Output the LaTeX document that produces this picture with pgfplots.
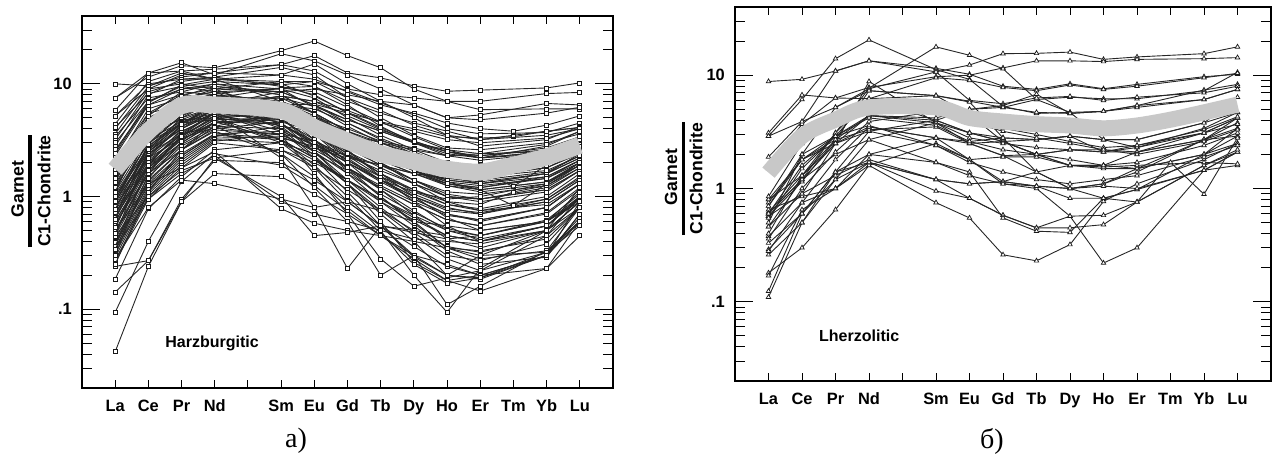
\documentclass[border=0pt]{standalone}
\usepackage{fontspec}
\setmainfont{Liberation Sans}
\newfontfamily\serifcyr{Liberation Serif}
\usepackage{pgfplots}
\pgfplotsset{compat=1.18}
\definecolor{band}{RGB}{200,200,200}
\pgfplotsset{every axis/.append style={
    scale only axis, clip marker paths=true,
    xmin=-1, xmax=15, ymin=0.02, ymax=40,
    xtick={0,...,14},
    xticklabels={La,Ce,Pr,Nd,,Sm,Eu,Gd,Tb,Dy,Ho,Er,Tm,Yb,Lu},
    ytick={0.1,1,10}, yticklabels={.1,1,10},
    minor ytick={0.02,0.03,0.04,0.05,0.06,0.07,0.08,0.09,0.2,0.3,0.4,0.5,0.6,0.7,0.8,0.9,2,3,4,5,6,7,8,9,20,30},
    tick align=inside, xtick pos=both, ytick pos=both,
    major tick length=9pt, minor tick length=5pt,
    xtick style={/pgfplots/major tick length=4pt},
    every tick/.style={black, line width=0.5pt},
    axis line style={line width=0.9pt},
    ticklabel style={font=\fontsize{8.2}{9}\selectfont\bfseries},
    xticklabel style={text height=6pt, text depth=1.7pt, yshift=-2.3pt},
    yticklabel style={xshift=-1.6pt},
  },
  hzs/.style={draw=black!85, line width=0.45pt, mark=square*, mark size=1pt, mark options={solid, fill=white, draw=black!90, line width=0.35pt}},
  lzs/.style={draw=black!85, line width=0.45pt, mark=triangle*, mark size=1.3pt, mark options={solid, fill=white, draw=black!90, line width=0.35pt}},
}
\begin{document}
\begin{tikzpicture}
\useasboundingbox (0,0) rectangle (639pt,228.5pt);
% ---------------- left panel: Harzburgitic ----------------
\begin{semilogyaxis}[width=265.5pt, height=186pt, at={(41pt,34.5pt)}, anchor=south west]
\addplot[hzs] coordinates {(0,10.0)(1,9.6)(2,11.5)(3,12.5)(5,14.8)(6,17.8)(7,12.5)(8,11.3)(9,9.6)(10,8.6)(11,8.8)(13,9.2)(14,10.2)};
\addplot[hzs] coordinates {(0,7.5)(1,11.5)(2,14.5)(3,13.9)(5,19.7)(6,24)(7,17.8)(8,13.9)(9,9.0)(10,7.0)(11,7.0)(13,8.2)(14,8.4)};
\addplot[hzs] coordinates {(0,5.8)(1,12.5)(2,15.4)(3,12)(5,18.5)(6,16)(7,12)(8,9)(9,6.5)(10,5)(11,5.3)(13,6.7)(14,6.5)};
\addplot[hzs] coordinates {(0,4.4)(1,10.5)(2,13)(3,13.5)(5,14.8)(6,13)(7,9)(8,8)(9,7.5)(10,7)(11,5.9)(13,6)(14,6.0)};
\addplot[hzs] coordinates {(0,3.6)(1,9)(2,12)(3,12.5)(5,12)(6,11)(7,8.5)(8,6.5)(9,5.5)(10,4.5)(11,4.0)(12,3.8)(13,4.3)(14,5.2)};
\addplot[hzs] coordinates {(0,2.8)(1,8)(2,11)(3,11)(5,10.5)(6,9.5)(7,7)(8,5.5)(9,4.5)(10,3.8)(11,3.2)(12,3.5)(13,3.8)(14,4.1)};
\addplot[hzs] coordinates {(0,5.2)(1,10)(2,11)(3,11.5)(5,9.5)(6,8)(7,5.5)(8,4)(9,3)(10,2.4)(11,2.2)(13,2.8)(14,3.8)};
\addplot[hzs] coordinates {(0,2.5)(1,7)(2,9.5)(3,10.5)(5,9.8)(6,10.5)(7,8.7)(8,6.8)(9,5.3)(10,4)(11,3.6)(13,3.7)(14,4.5)};
\addplot[hzs] coordinates {(0,4.0)(1,9.5)(2,12.5)(3,11)(5,12)(6,15)(7,10)(8,7)(9,5)(10,3.5)(11,2.8)(13,3.2)(14,4.2)};
\addplot[hzs] coordinates {(0,3.2)(1,8.5)(2,10.5)(3,11.5)(5,14)(6,12)(7,7.5)(8,5)(9,3.5)(10,2.7)(11,2.6)(13,3.0)(14,3.6)};
\addplot[hzs] coordinates {(0,2.1)(1,5.5)(2,8)(3,9)(5,8.5)(6,6.5)(7,4.5)(8,3.2)(9,2.4)(10,1.8)(11,1.6)(13,2.0)(14,2.8)};
\addplot[hzs] coordinates {(0,1.8)(1,5)(2,7)(3,8)(5,7)(6,5)(7,3.4)(8,2.5)(9,1.9)(10,1.5)(11,1.3)(13,1.6)(14,2.4)};
\addplot[hzs] coordinates {(0,1.6)(1,4.5)(2,7.5)(3,8.5)(5,9)(6,7.5)(7,5)(8,3.5)(9,2.6)(10,2)(11,1.8)(13,2.1)(14,2.9)};
\addplot[hzs] coordinates {(0,1.4)(1,4.2)(2,6.5)(3,7)(5,6)(6,4.2)(7,3)(8,2.2)(9,1.7)(10,1.4)(11,1.3)(13,1.6)(14,2.2)};
\addplot[hzs] coordinates {(0,1.3)(1,3.8)(2,6)(3,7.5)(5,7.5)(6,5.5)(7,3.8)(8,2.8)(9,2.2)(10,1.8)(11,1.7)(13,2.1)(14,2.7)};
\addplot[hzs] coordinates {(0,1.2)(1,3.5)(2,5.5)(3,6.5)(5,5.5)(6,3.8)(7,2.5)(8,1.8)(9,1.3)(10,1.0)(11,0.95)(13,1.2)(14,1.8)};
\addplot[hzs] coordinates {(0,1.1)(1,3.3)(2,5)(3,6.2)(5,6.5)(6,5)(7,3.6)(8,2.7)(9,2.1)(10,1.7)(11,1.55)(13,1.8)(14,2.5)};
\addplot[hzs] coordinates {(0,1.0)(1,3)(2,5.2)(3,6.8)(5,7.5)(6,6.3)(7,4.8)(8,3.8)(9,3)(10,2.5)(11,2.2)(13,2.5)(14,3.1)};
\addplot[hzs] coordinates {(0,0.95)(1,2.8)(2,4.8)(3,6.2)(5,5.5)(6,3.6)(7,2.3)(8,1.5)(9,1.05)(10,0.8)(11,0.7)(13,0.9)(14,1.4)};
\addplot[hzs] coordinates {(0,0.9)(1,2.6)(2,4.4)(3,5.8)(5,6)(6,4.5)(7,3.2)(8,2.3)(9,1.7)(10,1.3)(11,1.2)(13,1.5)(14,2.1)};
\addplot[hzs] coordinates {(0,0.85)(1,2.5)(2,4)(3,5.5)(5,4.8)(6,3.2)(7,2.1)(8,1.4)(9,1.0)(10,0.75)(11,0.7)(13,0.95)(14,1.5)};
\addplot[hzs] coordinates {(0,0.8)(1,2.3)(2,4.2)(3,6)(5,7)(6,5.5)(7,3.8)(8,2.6)(9,1.8)(10,1.35)(11,1.15)(13,1.35)(14,2.0)};
\addplot[hzs] coordinates {(0,0.75)(1,2.2)(2,3.8)(3,5.2)(5,5.2)(6,3.9)(7,2.7)(8,1.9)(9,1.4)(10,1.05)(11,0.95)(13,1.15)(14,1.7)};
\addplot[hzs] coordinates {(0,0.7)(1,2.1)(2,3.5)(3,5)(5,4.3)(6,3)(7,2)(8,1.35)(9,0.95)(10,0.7)(11,0.6)(13,0.8)(14,1.3)};
\addplot[hzs] coordinates {(0,0.65)(1,2)(2,3.7)(3,5.5)(5,6.5)(6,6)(7,4.5)(8,3.3)(9,2.5)(10,1.9)(11,1.7)(13,2)(14,2.6)};
\addplot[hzs] coordinates {(0,0.6)(1,1.9)(2,3.3)(3,4.8)(5,5)(6,3.6)(7,2.4)(8,1.6)(9,1.1)(10,0.85)(11,0.75)(13,0.95)(14,1.45)};
\addplot[hzs] coordinates {(0,0.55)(1,1.8)(2,3.2)(3,4.6)(5,4.4)(6,3.1)(7,2.1)(8,1.5)(9,1.15)(10,0.9)(11,0.85)(12,1.1)(13,1.25)(14,1.9)};
\addplot[hzs] coordinates {(0,0.5)(1,1.7)(2,3)(3,4.5)(5,5.2)(6,4.6)(7,3.4)(8,2.5)(9,1.9)(10,1.5)(11,1.4)(13,1.65)(14,2.3)};
\addplot[hzs] coordinates {(0,0.48)(1,1.6)(2,2.9)(3,4.2)(5,4)(6,2.8)(7,1.8)(8,1.2)(9,0.85)(10,0.62)(11,0.55)(13,0.72)(14,1.2)};
\addplot[hzs] coordinates {(0,0.45)(1,1.5)(2,2.8)(3,4.0)(5,4.6)(6,3.8)(7,2.8)(8,2.1)(9,1.6)(10,1.25)(11,1.15)(13,1.35)(14,1.9)};
\addplot[hzs] coordinates {(0,0.42)(1,1.4)(2,2.6)(3,3.9)(5,3.6)(6,2.5)(7,1.6)(8,1.05)(9,0.72)(10,0.52)(11,0.45)(13,0.6)(14,1.0)};
\addplot[hzs] coordinates {(0,0.4)(1,1.35)(2,2.6)(3,4.2)(5,5.5)(6,5)(7,3.7)(8,2.8)(9,2.1)(10,1.7)(11,1.5)(13,1.8)(14,2.4)};
\addplot[hzs] coordinates {(0,0.37)(1,1.3)(2,2.4)(3,3.6)(5,3.8)(6,2.9)(7,2)(8,1.4)(9,1.0)(10,0.78)(11,0.72)(13,0.9)(14,1.4)};
\addplot[hzs] coordinates {(0,0.35)(1,1.2)(2,2.3)(3,3.5)(5,3.2)(6,2.2)(7,1.4)(8,0.9)(9,0.62)(10,0.45)(11,0.4)(13,0.55)(14,0.95)};
\addplot[hzs] coordinates {(0,0.33)(1,1.15)(2,2.2)(3,3.4)(5,4.2)(6,3.8)(7,2.9)(8,2.2)(9,1.7)(10,1.35)(11,1.25)(13,1.45)(14,2.0)};
\addplot[hzs] coordinates {(0,0.31)(1,1.1)(2,2.1)(3,3.3)(5,3.4)(6,2.6)(7,1.8)(8,1.25)(9,0.9)(10,0.68)(11,0.62)(13,0.8)(14,1.3)};
\addplot[hzs] coordinates {(0,0.29)(1,1.05)(2,2.0)(3,3.2)(5,3.0)(6,2.1)(7,1.4)(8,0.95)(9,0.68)(10,0.5)(11,0.45)(13,0.62)(14,1.05)};
\addplot[hzs] coordinates {(0,0.27)(1,1.0)(2,1.9)(3,3.1)(5,3.6)(6,3.1)(7,2.3)(8,1.7)(9,1.3)(10,1.0)(11,0.95)(13,1.15)(14,1.7)};
\addplot[hzs] coordinates {(0,0.26)(1,0.95)(2,1.8)(3,3.0)(5,2.6)(6,1.8)(7,1.15)(8,0.75)(9,0.5)(10,0.36)(11,0.32)(13,0.45)(14,0.8)};
\addplot[hzs] coordinates {(0,0.24)(1,0.27)(2,0.9)(3,2.2)(5,2.6)(6,2.0)(7,1.4)(8,0.95)(9,0.65)(10,0.45)(11,0.4)(13,0.55)(14,0.95)};
\addplot[hzs] coordinates {(0,0.185)(1,0.78)(2,1.5)(3,2.6)(5,3)(6,2.4)(7,1.7)(8,1.2)(9,0.85)(10,0.62)(11,0.55)(13,0.7)(14,1.15)};
\addplot[hzs] coordinates {(0,0.142)(1,0.27)(2,0.95)(3,2.1)(5,2.0)(6,1.4)(7,0.9)(8,0.55)(9,0.36)(10,0.24)(11,0.2)(13,0.3)(14,0.6)};
\addplot[hzs] coordinates {(0,0.094)(1,0.4)(2,1.36)(3,2.4)(5,1.9)(6,1.25)(7,0.75)(8,0.45)(9,0.28)(10,0.18)(11,0.145)(13,0.23)(14,0.45)};
\addplot[hzs] coordinates {(0,0.042)(1,0.24)(2,0.9)(3,1.6)(5,1.5)(6,1.05)(7,0.7)(8,0.45)(9,0.3)(10,0.2)(11,0.19)(13,0.32)(14,0.61)};
\addplot[hzs] coordinates {(0,7.5)(1,12.5)(2,13)(3,11)(5,7)(6,4.5)(7,2.6)(8,1.5)(9,0.9)(10,0.55)(11,0.4)(13,0.5)(14,0.8)};
\addplot[hzs] coordinates {(0,5.2)(1,9)(2,10)(3,9)(5,5.5)(6,3.2)(7,1.8)(8,1.0)(9,0.6)(10,0.35)(11,0.28)(13,0.33)(14,0.6)};
\addplot[hzs] coordinates {(0,4.1)(1,8.2)(2,9.5)(3,8.5)(5,5)(6,2.8)(7,1.6)(8,0.9)(9,0.55)(10,0.33)(11,0.25)(13,0.29)(14,0.7)};
\addplot[hzs] coordinates {(0,3.4)(1,7.5)(2,8.5)(3,8)(5,6)(6,4)(7,2.5)(8,1.6)(9,1.0)(10,0.65)(11,0.5)(13,0.6)(14,0.95)};
\addplot[hzs] coordinates {(0,2.6)(1,6.5)(2,8)(3,7.5)(5,5)(6,3)(7,1.7)(8,1.0)(9,0.58)(10,0.35)(11,0.3)(13,0.5)(14,0.9)};
\addplot[hzs] coordinates {(0,2.0)(1,6)(2,7.5)(3,8.5)(5,6.5)(6,4.5)(7,3)(8,2)(9,1.3)(10,0.9)(11,0.75)(13,0.85)(14,1.3)};
\addplot[hzs] coordinates {(0,1.7)(1,5.5)(2,6.5)(3,6.5)(5,4.5)(6,2.8)(7,1.8)(8,1.15)(9,0.75)(10,0.5)(11,0.42)(13,0.55)(14,1.0)};
\addplot[hzs] coordinates {(0,1.5)(1,4.8)(2,6)(3,6.5)(5,4)(6,2.3)(7,1.3)(8,0.75)(9,0.45)(10,0.28)(11,0.22)(13,0.32)(14,0.65)};
\addplot[hzs] coordinates {(0,1.15)(1,4)(2,5.5)(3,6)(5,4.2)(6,2.5)(7,1.4)(8,0.8)(9,0.48)(10,0.3)(11,0.27)(13,0.38)(14,0.8)};
\addplot[hzs] coordinates {(0,0.92)(1,3.5)(2,5.5)(3,7)(5,6)(6,3.6)(7,2)(8,1.15)(9,0.68)(10,0.42)(11,0.35)(13,0.5)(14,0.9)};
\addplot[hzs] coordinates {(0,0.68)(1,2.8)(2,4.5)(3,6)(5,4.5)(6,2.5)(7,1.3)(8,0.7)(9,0.4)(10,0.2)(11,0.185)(13,0.3)(14,0.7)};
\addplot[hzs] coordinates {(0,0.52)(1,2.4)(2,4)(3,5.5)(5,3.8)(6,2.2)(7,1.1)(8,0.55)(9,0.3)(10,0.11)(11,0.16)(13,0.33)(14,0.8)};
\addplot[hzs] coordinates {(0,1.25)(1,3.8)(2,4.8)(3,5)(5,3.2)(6,1.9)(7,1.0)(8,0.5)(9,0.2)(10,0.094)(11,0.23)(13,0.5)(14,1.2)};
\addplot[hzs] coordinates {(0,0.88)(1,3.2)(2,4.6)(3,5.5)(5,3.5)(6,1.6)(7,0.7)(8,0.28)(9,0.16)(10,0.19)(11,0.22)(13,0.45)(14,1.0)};
\addplot[hzs] coordinates {(0,0.62)(1,2.5)(2,4.2)(3,5.5)(5,2.2)(6,0.8)(7,0.23)(8,0.55)(9,0.5)(10,0.45)(11,0.4)(13,0.55)(14,1.0)};
\addplot[hzs] coordinates {(0,0.78)(1,2.4)(2,3.6)(3,4.2)(5,2.4)(6,1.2)(7,0.6)(8,0.2)(9,0.3)(10,0.25)(11,0.2)(13,0.3)(14,0.6)};
\addplot[hzs] coordinates {(0,1.05)(1,3)(2,4.5)(3,4.8)(5,3)(6,1.8)(7,0.9)(8,0.55)(9,0.29)(10,0.2)(11,0.3)(13,0.32)(14,0.55)};
\addplot[hzs] coordinates {(0,0.73)(1,1.8)(2,3)(3,4.6)(5,3.2)(6,2.2)(7,1.3)(8,0.6)(9,0.26)(10,0.18)(11,0.2)(13,0.23)(14,0.6)};
\addplot[hzs] coordinates {(0,0.58)(1,1.6)(2,2.6)(3,3.8)(5,2.4)(6,1.5)(7,0.8)(8,0.48)(9,0.25)(10,0.17)(11,0.19)(13,0.3)(14,0.9)};
\addplot[hzs] coordinates {(0,0.9)(1,2.5)(2,4.5)(3,6.5)(5,8.5)(6,9)(7,8)(8,7)(9,6.5)(10,5)(11,4.8)(13,5.5)(14,6.2)};
\addplot[hzs] coordinates {(0,0.55)(1,2)(2,3.6)(3,5.5)(5,6.5)(6,6.6)(7,5.5)(8,4.6)(9,4)(10,3.4)(11,3.3)(12,3.4)(13,3.8)(14,4.1)};
\addplot[hzs] coordinates {(0,1.9)(1,4.7)(2,6.8)(3,8.2)(5,9.2)(6,9.5)(7,6.5)(8,4.2)(9,3.0)(10,2.3)(11,2.4)(13,2.5)(14,3.3)};
\addplot[hzs] coordinates {(0,1.35)(1,4.5)(2,7.2)(3,9)(5,10.5)(6,10.5)(7,7.5)(8,5.8)(9,4.3)(10,3.5)(11,3.2)(13,3.5)(14,4.0)};
\addplot[hzs] coordinates {(0,0.5)(1,1.3)(2,1.8)(3,2.5)(5,0.78)(6,0.58)(7,0.5)(8,0.45)(9,0.4)(10,0.35)(11,0.33)(13,0.42)(14,0.8)};
\addplot[hzs] coordinates {(0,0.35)(1,0.95)(2,1.6)(3,2.3)(5,0.9)(6,0.7)(7,0.6)(8,0.5)(9,0.42)(10,0.4)(11,0.38)(13,0.5)(14,0.9)};
\addplot[hzs] coordinates {(0,0.45)(1,1.0)(2,1.7)(3,2.2)(5,1.0)(6,0.45)(7,0.48)(8,0.55)(9,0.48)(10,0.42)(11,0.45)(13,0.6)(14,1.1)};
\addplot[hzs] coordinates {(0,0.28)(1,0.8)(2,1.4)(3,1.3)(5,0.95)(6,0.8)(7,0.9)(8,0.75)(9,0.6)(10,0.55)(11,0.5)(13,0.6)(14,0.9)};
\addplot[hzs] coordinates {(0,2.3)(1,6.5)(2,9)(3,10)(5,8)(6,5.5)(7,3.8)(8,2.8)(9,2.1)(10,1.7)(11,1.65)(12,1.23)(13,1.9)(14,2.6)};
\addplot[hzs] coordinates {(0,1.45)(1,4.2)(2,6.2)(3,7.2)(5,6)(6,4.2)(7,2.9)(8,2.1)(9,1.6)(10,1.3)(11,1.15)(12,0.83)(13,1.3)(14,2.0)};
\addplot[hzs] coordinates {(0,1.0)(1,2.7)(2,4.5)(3,6.3)(5,7.8)(6,7)(7,5.8)(8,4.5)(9,3.8)(10,3.2)(11,3.0)(13,3.3)(14,4.0)};
\addplot[hzs] coordinates {(0,0.66)(1,1.9)(2,3.4)(3,5.0)(5,5.8)(6,5.1)(7,4.0)(8,3.1)(9,2.7)(10,2.3)(11,2.3)(13,2.6)(14,3.3)};
\addplot[hzs] coordinates {(0,0.82)(1,2.2)(2,3.3)(3,4.1)(5,3.5)(6,2.7)(7,2.2)(8,1.9)(9,1.6)(10,1.45)(11,1.35)(13,1.6)(14,2.2)};
\addplot[hzs] coordinates {(0,0.39)(1,1.25)(2,2.3)(3,3.6)(5,3.3)(6,2.8)(7,2.3)(8,1.9)(9,1.6)(10,1.45)(11,1.5)(13,1.7)(14,2.3)};
\addplot[hzs] coordinates {(0,3.0)(1,7)(2,9)(3,9.5)(5,8.5)(6,6.5)(7,4.8)(8,3.8)(9,3.0)(10,2.6)(11,2.4)(13,2.9)(14,3.8)};
\addplot[hzs] coordinates {(0,1.2)(1,3.5)(2,5.8)(3,7.5)(5,9.2)(6,8.5)(7,6.2)(8,4.6)(9,3.4)(10,2.6)(11,2.2)(13,2.5)(14,3.0)};
\addplot[hzs] coordinates {(0,0.6)(1,1.85)(2,3.2)(3,4.5)(5,4.8)(6,4.3)(7,3.6)(8,3.0)(9,2.6)(10,2.3)(11,2.1)(13,2.4)(14,3.0)};
\addplot[hzs] coordinates {(0,0.3)(1,1.6)(2,3.5)(3,5.5)(5,6.2)(6,4.8)(7,3.3)(8,2.4)(9,1.8)(10,1.4)(11,1.3)(13,1.5)(14,2.1)};
\addplot[hzs] coordinates {(0,0.44)(1,2.6)(2,5)(3,7)(5,7)(6,5.2)(7,3.5)(8,2.4)(9,1.7)(10,1.25)(11,1.1)(13,1.3)(14,1.9)};
\addplot[hzs] coordinates {(0,0.63)(1,3)(2,5.8)(3,7.8)(5,6.8)(6,4.6)(7,3.0)(8,2.0)(9,1.4)(10,1.0)(11,0.9)(13,1.1)(14,1.7)};
\addplot[hzs] coordinates {(0,1.6)(1,5.2)(2,8.5)(3,10)(5,9)(6,6.2)(7,4.2)(8,3)(9,2.3)(10,1.9)(11,1.8)(13,2.1)(14,2.9)};
\addplot[hzs] coordinates {(0,0.36)(1,1.9)(2,4)(3,6)(5,5.5)(6,3.6)(7,2.2)(8,1.4)(9,0.95)(10,0.7)(11,0.62)(13,0.8)(14,1.3)};
\addplot[hzs] coordinates {(0,0.53)(1,2.2)(2,4.4)(3,6.4)(5,7.8)(6,7)(7,5.2)(8,3.9)(9,3.1)(10,2.5)(11,2.2)(13,2.4)(14,3.2)};
\addplot[hzs] coordinates {(0,2.4)(1,6.8)(2,9.8)(3,11)(5,10)(6,7.8)(7,5.6)(8,4.1)(9,3.1)(10,2.5)(11,2.3)(13,2.7)(14,3.4)};
\addplot[hzs] coordinates {(0,0.77)(1,2.9)(2,5.3)(3,7)(5,5.8)(6,3.8)(7,2.4)(8,1.6)(9,1.15)(10,0.85)(11,0.78)(13,1.0)(14,1.6)};
\addplot[hzs] coordinates {(0,0.25)(1,1.1)(2,2.6)(3,4.6)(5,4.9)(6,3.9)(7,2.7)(8,1.9)(9,1.4)(10,1.1)(11,1.05)(13,1.25)(14,1.8)};
\addplot[hzs] coordinates {(0,1.1)(1,4.4)(2,7.8)(3,9.5)(5,8)(6,5.4)(7,3.5)(8,2.4)(9,1.7)(10,1.3)(11,1.2)(13,1.45)(14,2.1)};
\addplot[hzs] coordinates {(0,0.47)(1,1.7)(2,3.4)(3,5.2)(5,4.4)(6,3.0)(7,2.0)(8,1.4)(9,1.1)(10,0.95)(11,1.0)(13,1.3)(14,2.0)};
\addplot[hzs] coordinates {(0,0.34)(1,1.45)(2,3.1)(3,4.9)(5,5.6)(6,4.9)(7,3.8)(8,3.0)(9,2.4)(10,2.0)(11,1.9)(13,2.2)(14,2.8)};
\addplot[smooth, line width=8.5pt, color=band] coordinates {(0,1.75)(1,3.8)(2,6.4)(3,6.5)(5,5.8)(6,4.1)(7,3.1)(8,2.4)(9,2.05)(10,1.75)(11,1.65)(12,1.9)(13,2.25)(14,2.85)};
\node[anchor=west, inner sep=0pt, font=\fontsize{8}{9}\selectfont\bfseries] at (axis cs:1.5,0.05) {Harzburgitic};
\end{semilogyaxis}
% ---------------- right panel: Lherzolitic ----------------
\begin{semilogyaxis}[width=268pt, height=187pt, at={(367.5pt,38pt)}, anchor=south west]
\addplot[lzs] coordinates {(0,8.8)(1,9.2)(2,10.9)(3,13.4)(5,11.5)(6,10.2)(7,8.0)(8,7.5)(9,8.4)(10,7.6)(11,8.3)(13,9.7)(14,10.2)};
\addplot[lzs] coordinates {(0,2.9)(1,6.1)(2,14)(3,20.5)(5,11.2)(6,9.2)(7,5.3)(8,4.6)(9,4.7)(10,4.8)(11,5.4)(13,7.4)(14,8.3)};
\addplot[lzs] coordinates {(0,1.9)(1,3.9)(2,10.9)(3,13.4)(5,10.7)(6,12.3)(7,15.5)(8,15.6)(9,16)(10,13.8)(11,14.5)(13,15.5)(14,17.8)};
\addplot[lzs] coordinates {(0,1.5)(1,3.7)(2,6.3)(3,7.8)(5,9.7)(6,10)(7,11.6)(8,13.4)(9,13.4)(10,13.2)(11,13.8)(13,14)(14,14.3)};
\addplot[lzs] coordinates {(0,0.62)(1,1.3)(2,3.1)(3,7.7)(5,17.8)(6,15)(7,11.4)(8,6.1)(9,4.7)(10,2.7)(11,2.3)(13,3.1)(14,4.2)};
\addplot[lzs] coordinates {(0,3.1)(1,6.7)(2,6.3)(3,6.2)(5,6.6)(6,5.9)(7,5.2)(8,6.1)(9,6.4)(10,6.2)(11,6.2)(13,7.3)(14,10.6)};
\addplot[lzs] coordinates {(0,0.8)(1,1.8)(2,2.9)(3,6.2)(5,9.5)(6,9.0)(7,7.8)(8,7.3)(9,8.2)(10,7.5)(11,8.0)(13,9.5)(14,10.4)};
\addplot[lzs] coordinates {(0,0.7)(1,2.0)(2,5.2)(3,7.6)(5,10.7)(6,6.0)(7,5.6)(8,6.3)(9,6.5)(10,6.0)(11,6.4)(13,7.0)(14,8.0)};
\addplot[lzs] coordinates {(0,0.57)(1,1.15)(2,2.7)(3,4.4)(5,4.0)(6,5.0)(7,5.4)(8,6.8)(9,4.6)(10,4.8)(11,5.2)(13,6.1)(14,7.5)};
\addplot[lzs] coordinates {(0,0.46)(1,0.9)(2,2.5)(3,8.8)(5,3.8)(6,3.1)(7,2.8)(8,2.7)(9,2.9)(10,2.7)(11,2.7)(13,3.8)(14,6.4)};
\addplot[lzs] coordinates {(0,0.38)(1,0.75)(2,1.8)(3,3.5)(5,2.8)(6,2.5)(7,2.6)(8,2.0)(9,2.2)(10,2.1)(11,2.3)(13,3.4)(14,4.7)};
\addplot[lzs] coordinates {(0,0.29)(1,0.6)(2,1.4)(3,3.2)(5,4.0)(6,3.1)(7,2.6)(8,2.0)(9,1.6)(10,1.6)(11,2.1)(13,2.7)(14,4.2)};
\addplot[lzs] coordinates {(0,0.26)(1,0.5)(2,1.2)(3,2.7)(5,3.8)(6,2.5)(7,1.95)(8,1.4)(9,1.0)(10,1.1)(11,1.5)(13,2.0)(14,3.4)};
\addplot[lzs] coordinates {(0,0.18)(1,0.3)(2,0.65)(3,1.6)(5,2.5)(6,1.8)(7,1.15)(8,1.05)(9,0.82)(10,0.82)(11,0.98)(13,1.45)(14,2.1)};
\addplot[lzs] coordinates {(0,0.17)(1,0.65)(2,1.0)(3,2.0)(5,2.8)(6,2.6)(7,2.8)(8,2.7)(9,2.9)(10,2.1)(11,2.1)(13,2.7)(14,2.9)};
\addplot[lzs] coordinates {(0,0.124)(1,0.6)(2,1.2)(3,1.7)(5,1.2)(6,1.1)(7,1.15)(8,1.4)(9,1.6)(10,1.5)(11,1.5)(13,2.0)(14,2.5)};
\addplot[lzs] coordinates {(0,0.11)(1,0.5)(2,1.4)(3,1.7)(5,0.95)(6,0.82)(7,0.58)(8,0.45)(9,0.57)(10,0.58)(11,0.76)(13,1.6)(14,2.1)};
\addplot[lzs] coordinates {(0,0.65)(1,0.85)(2,1.0)(3,1.6)(5,0.75)(6,0.55)(7,0.26)(8,0.23)(9,0.32)(10,0.77)(11,1.1)(13,1.8)(14,2.5)};
\addplot[lzs] coordinates {(0,0.6)(1,1.2)(2,2.5)(3,3.2)(5,2.4)(6,1.8)(7,1.1)(8,1.0)(9,0.57)(10,0.22)(11,0.3)(13,1.45)(14,2.1)};
\addplot[lzs] coordinates {(0,0.57)(1,0.9)(2,1.3)(3,1.8)(5,1.2)(6,0.82)(7,0.58)(8,0.45)(9,0.45)(10,0.48)(11,0.76)(13,1.6)(14,2.2)};
\addplot[lzs] coordinates {(0,0.46)(1,1.2)(2,2.0)(3,2.7)(5,1.7)(6,1.4)(7,0.55)(8,0.42)(9,0.41)(10,0.82)(11,0.98)(13,2.0)(14,2.9)};
\addplot[lzs] coordinates {(0,2.9)(1,3.9)(2,5.2)(3,7.3)(5,6.6)(6,4.5)(7,2.6)(8,2.0)(9,1.6)(10,1.6)(11,1.5)(13,2.7)(14,3.4)};
\addplot[lzs] coordinates {(0,0.75)(1,1.8)(2,2.7)(3,3.3)(5,3.5)(6,2.5)(7,1.95)(8,2.0)(9,2.2)(10,2.2)(11,2.1)(13,3.1)(14,4.2)};
\addplot[lzs] coordinates {(0,0.6)(1,1.2)(2,3.1)(3,6.2)(5,4.0)(6,3.1)(7,2.6)(8,2.7)(9,2.9)(10,2.7)(11,2.7)(13,3.8)(14,4.7)};
\addplot[lzs] coordinates {(0,0.4)(1,1.3)(2,2.5)(3,4.4)(5,4.2)(6,5.0)(7,5.2)(8,4.7)(9,4.6)(10,4.8)(11,5.4)(13,6.1)(14,7.5)};
\addplot[lzs] coordinates {(0,0.8)(1,1.3)(2,2.7)(3,7.3)(5,6.6)(6,5.8)(7,2.8)(8,1.4)(9,1.0)(10,1.1)(11,1.4)(13,2.7)(14,3.8)};
\addplot[lzs] coordinates {(0,0.28)(1,0.75)(2,1.0)(3,1.7)(5,1.2)(6,1.1)(7,1.15)(8,1.05)(9,1.0)(10,1.05)(11,1.0)(13,1.45)(14,1.6)};
\addplot[lzs] coordinates {(0,0.7)(1,1.8)(2,2.5)(3,3.5)(5,2.8)(6,1.8)(7,1.9)(8,1.9)(9,1.6)(10,1.55)(11,1.6)(13,1.7)(14,1.65)};
\addplot[lzs] coordinates {(0,0.5)(1,2.0)(2,2.9)(3,4.4)(5,3.8)(6,2.8)(7,2.5)(8,2.3)(9,2.2)(10,2.1)(11,2.4)(13,3.3)(14,4.3)};
\addplot[lzs] coordinates {(0,0.33)(1,0.6)(2,1.4)(3,2.0)(5,1.7)(6,1.3)(7,1.1)(8,1.05)(9,1.0)(10,0.82)(11,0.76)(12,1.7)(13,0.89)(14,2.8)};
\addplot[lzs] coordinates {(0,0.55)(1,1.5)(2,2.9)(3,4.2)(5,3.6)(6,2.6)(7,2.2)(8,2.0)(9,1.8)(10,1.6)(11,1.7)(13,2.4)(14,3.1)};
\addplot[lzs] coordinates {(0,0.85)(1,2.5)(2,4.3)(3,5.4)(5,5.0)(6,4.1)(7,3.4)(8,3.0)(9,2.6)(10,2.3)(11,2.4)(13,3.1)(14,3.7)};
\addplot[lzs] coordinates {(0,0.36)(1,1.0)(2,2.1)(3,3.9)(5,4.8)(6,3.9)(7,3.2)(8,2.8)(9,2.5)(10,2.2)(11,2.0)(13,2.6)(14,3.3)};
\addplot[lzs] coordinates {(0,0.6)(1,1.6)(2,2.9)(3,3.6)(5,2.4)(6,1.7)(7,1.4)(8,1.2)(9,1.1)(10,1.2)(11,1.3)(13,1.9)(14,2.4)};
\addplot[smooth, line width=8pt, color=band] coordinates {(0,1.38)(1,2.9)(2,4.05)(3,5.2)(5,5.2)(6,4.2)(7,3.9)(8,3.7)(9,3.6)(10,3.4)(11,3.6)(12,4.05)(13,4.7)(14,5.5)};
\node[anchor=west, inner sep=0pt, font=\fontsize{8}{9}\selectfont\bfseries] at (axis cs:1.5,0.05) {Lherzolitic};
\end{semilogyaxis}
% ---------------- y labels (Garnet / C1-Chondrite) ----------------
\begin{scope}[every node/.style={font=\fontsize{8.8}{10}\selectfont\bfseries, rotate=90, inner sep=0pt}]
\node at (8.75pt,134pt) {Garnet};
\node at (22pt,133pt) {C1-Chondrite};
\node at (335.5pt,140pt) {Garnet};
\node at (348pt,139.3pt) {C1-Chondrite};
\end{scope}
\draw[line width=1.65pt] (15pt,105pt) -- (15pt,161pt);
\draw[line width=1.65pt] (341.75pt,111pt) -- (341.75pt,167.5pt);
\node[font=\serifcyr\fontsize{14}{16}\selectfont] at (148pt,8pt) {а)};
\node[font=\serifcyr\fontsize{14}{16}\selectfont] at (496pt,8pt) {б)};
\end{tikzpicture}
\end{document}
